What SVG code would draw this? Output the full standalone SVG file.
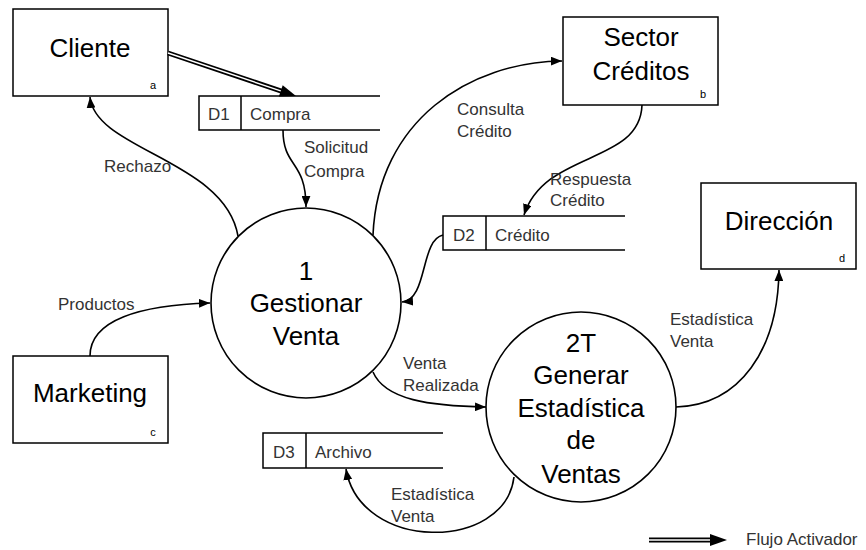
<svg xmlns="http://www.w3.org/2000/svg" width="866" height="550" viewBox="0 0 866 550">
<style>
.box{fill:#fff;stroke:#000;stroke-width:1.5}
.proc{fill:#fff;stroke:#000;stroke-width:1.6}
.st{fill:none;stroke:#000;stroke-width:1.5}
.flow{fill:none;stroke:#000;stroke-width:1.6;marker-end:url(#ah)}
.big{font-family:"Liberation Sans",Arial,sans-serif;font-size:26px;fill:#000;text-anchor:middle}
.lbl{font-family:"Liberation Sans",Arial,sans-serif;font-size:17px;fill:#333}
.sub{font-family:"Liberation Sans",Arial,sans-serif;font-size:11px;fill:#000;text-anchor:middle}
</style>
<defs>
<marker id="ah" viewBox="0 0 10 8" refX="10" refY="4" markerWidth="11" markerHeight="9" markerUnits="userSpaceOnUse" orient="auto">
<path d="M0,0 L10,4 L0,8 Z" fill="#000"/>
</marker>
</defs>
<rect width="866" height="550" fill="#fff"/>

<g id="cliente">
<rect class="box" x="13" y="9" width="155" height="87"/>
<text class="big" x="90" y="57">Cliente</text>
<text class="sub" x="153" y="89">a</text>
</g>

<g id="sector-creditos">
<rect class="box" x="563" y="17" width="155" height="88"/>
<text class="big" x="641" y="46">Sector</text>
<text class="big" x="641" y="80">Créditos</text>
<text class="sub" x="703" y="98">b</text>
</g>

<g id="direccion">
<rect class="box" x="701" y="183" width="155" height="86"/>
<text class="big" x="779" y="230">Dirección</text>
<text class="sub" x="842" y="262">d</text>
</g>

<g id="marketing">
<rect class="box" x="13" y="356" width="155" height="87"/>
<text class="big" x="90" y="402">Marketing</text>
<text class="sub" x="153" y="436">c</text>
</g>

<g id="d1">
<path class="st" d="M380,96 H199 V130 H380 M241,96 V130"/>
<text class="lbl" x="208" y="120">D1</text>
<text class="lbl" x="250" y="120">Compra</text>
</g>

<g id="d2">
<path class="st" d="M625,216 H443 V250 H625 M486,216 V250"/>
<text class="lbl" x="453" y="241">D2</text>
<text class="lbl" x="495" y="241">Crédito</text>
</g>

<g id="d3">
<path class="st" d="M443,433 H263 V468 H443 M306,433 V468"/>
<text class="lbl" x="273" y="458">D3</text>
<text class="lbl" x="315" y="458">Archivo</text>
</g>

<g id="p1">
<circle class="proc" cx="306" cy="303" r="95"/>
<text class="big" x="306" y="280">1</text>
<text class="big" x="306" y="312">Gestionar</text>
<text class="big" x="306" y="345">Venta</text>
</g>

<g id="p2">
<circle class="proc" cx="581" cy="407" r="95"/>
<text class="big" x="581" y="352">2T</text>
<text class="big" x="581" y="384">Generar</text>
<text class="big" x="581" y="417">Estadística</text>
<text class="big" x="581" y="449">de</text>
<text class="big" x="581" y="483">Ventas</text>
</g>

<g id="connectors">
<g transform="translate(168,53) rotate(18.57)">
<line x1="0" y1="0" x2="122" y2="0" stroke="#000" stroke-width="5"/>
<line x1="0" y1="0" x2="122" y2="0" stroke="#fff" stroke-width="1.4"/>
<path d="M119,-6 L135,0 L119,6 Z" fill="#000"/>
</g>
<path class="flow" d="M238,236 C225,160 95,150 90,97"/>
<path class="flow" d="M283,130 C283,168 306,160 306,207"/>
<path class="flow" d="M373,235 C378,120 470,62 562,61"/>
<path class="flow" d="M642,105 C640,165 545,150 524,215"/>
<path class="flow" d="M443,235 C420,240 428,300 402,302"/>
<path class="flow" d="M90,356 C90,320 140,305 210,303"/>
<path class="flow" d="M373,372 C385,400 430,406 486,407"/>
<path class="flow" d="M676,407 C740,405 778,350 779,270"/>
<path class="flow" d="M514,477 C505,552 360,552 346,469"/>
<text class="lbl" x="104" y="172">Rechazo</text>
<text class="lbl" x="304" y="153">Solicitud</text>
<text class="lbl" x="304" y="177">Compra</text>
<text class="lbl" x="457" y="115">Consulta</text>
<text class="lbl" x="457" y="137">Crédito</text>
<text class="lbl" x="550" y="185">Respuesta</text>
<text class="lbl" x="550" y="206">Crédito</text>
<text class="lbl" x="58" y="310">Productos</text>
<text class="lbl" x="403" y="369">Venta</text>
<text class="lbl" x="403" y="391">Realizada</text>
<text class="lbl" x="670" y="325">Estadística</text>
<text class="lbl" x="670" y="347">Venta</text>
<text class="lbl" x="391" y="500">Estadística</text>
<text class="lbl" x="391" y="522">Venta</text>
</g>

<g id="legend">
<line x1="649" y1="540" x2="713" y2="540" stroke="#000" stroke-width="5"/>
<line x1="649" y1="540" x2="713" y2="540" stroke="#fff" stroke-width="1.4"/>
<path d="M710,534 L727,540 L710,546 Z" fill="#000"/>
<text class="lbl" x="746" y="545">Flujo Activador</text>
</g>
</svg>
